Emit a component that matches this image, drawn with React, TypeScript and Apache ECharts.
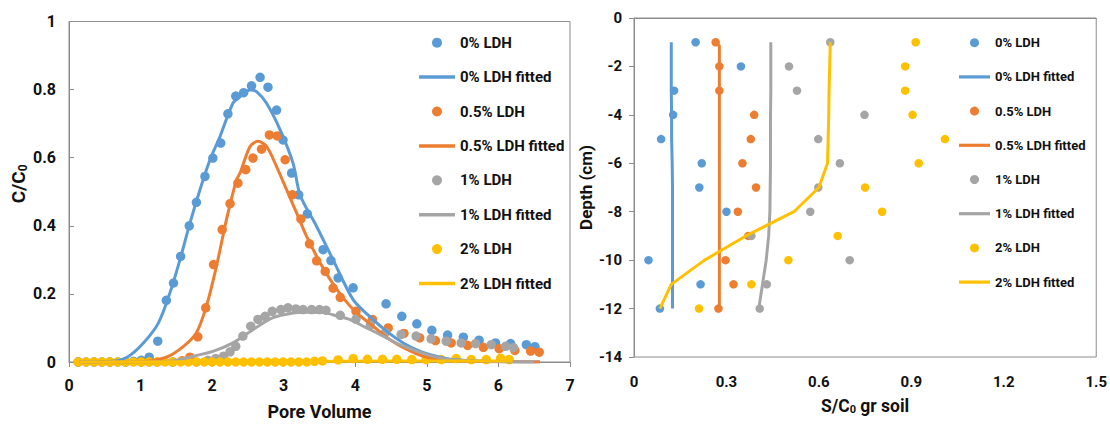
import React, { useEffect, useRef } from "react";
import * as echarts from "echarts";

// ---------- Left chart: breakthrough curves ----------
const pvTicks = [0, 1, 2, 3, 4, 5, 6, 7];

const ldh0X = [0.13, 0.24, 0.35, 0.46, 0.57, 0.68, 0.79, 0.9, 1.01, 1.12, 1.24, 1.36, 1.46, 1.56, 1.68, 1.78, 1.9, 2.01, 2.12, 2.22, 2.33, 2.44, 2.55, 2.67, 2.78, 2.9, 2.99, 3.11, 3.21, 3.33, 3.55, 3.66, 3.76, 3.97, 4.43, 4.65, 4.86, 5.07, 5.29, 5.51, 5.73, 5.96, 6.17, 6.39, 6.51];
const ldh0Y = [0, 0, 0, 0, 0, 0, 0, 0.002, 0.005, 0.014, 0.061, 0.181, 0.232, 0.31, 0.4, 0.469, 0.545, 0.599, 0.643, 0.729, 0.781, 0.791, 0.811, 0.836, 0.807, 0.74, 0.652, 0.555, 0.491, 0.435, 0.33, 0.298, 0.247, 0.218, 0.171, 0.134, 0.112, 0.093, 0.079, 0.073, 0.064, 0.056, 0.054, 0.051, 0.045];
const ldh0FitX = [0.15, 0.6, 0.81, 1.04, 1.25, 1.41, 1.55, 1.69, 1.83, 1.97, 2.11, 2.29, 2.39, 2.53, 2.62, 2.76, 2.95, 3.13, 3.23, 3.46, 3.69, 3.97, 4.2, 4.44, 4.67, 4.9, 5.13, 5.37, 5.8, 6.58];
const ldh0FitY = [0, 0.002, 0.014, 0.056, 0.115, 0.203, 0.3, 0.408, 0.506, 0.594, 0.662, 0.76, 0.779, 0.799, 0.794, 0.76, 0.682, 0.584, 0.49, 0.398, 0.3, 0.183, 0.134, 0.09, 0.056, 0.032, 0.017, 0.007, 0.002, 0];

const ldh05X = [0.13, 0.35, 0.57, 0.79, 1.01, 1.23, 1.45, 1.58, 1.69, 1.8, 1.91, 2.02, 2.14, 2.25, 2.36, 2.47, 2.57, 2.69, 2.8, 2.91, 3.02, 3.12, 3.24, 3.36, 3.46, 3.58, 3.69, 3.79, 4.01, 4.24, 4.46, 4.68, 4.9, 5.12, 5.34, 5.57, 5.79, 6.01, 6.23, 6.45, 6.57];
const ldh05Y = [0, 0, 0, 0, 0, 0, 0, 0.004, 0.014, 0.074, 0.159, 0.286, 0.389, 0.465, 0.525, 0.565, 0.599, 0.625, 0.667, 0.664, 0.594, 0.491, 0.42, 0.347, 0.297, 0.266, 0.217, 0.19, 0.149, 0.125, 0.1, 0.084, 0.071, 0.063, 0.056, 0.049, 0.043, 0.039, 0.034, 0.032, 0.029];
const ldh05FitX = [0.15, 1.0, 1.36, 1.6, 1.78, 1.92, 2.06, 2.2, 2.34, 2.39, 2.53, 2.64, 2.76, 2.9, 3.04, 3.18, 3.32, 3.51, 3.65, 3.85, 4.02, 4.25, 4.48, 4.72, 4.95, 5.18, 5.6, 6.58];
const ldh05FitY = [0, 0.001, 0.014, 0.046, 0.086, 0.164, 0.281, 0.418, 0.535, 0.555, 0.633, 0.648, 0.633, 0.574, 0.506, 0.438, 0.369, 0.291, 0.242, 0.183, 0.144, 0.105, 0.066, 0.037, 0.017, 0.007, 0.002, 0];

const ldh1X = [0.13, 0.46, 0.79, 1.12, 1.45, 1.78, 1.94, 2.05, 2.16, 2.25, 2.33, 2.43, 2.54, 2.64, 2.74, 2.84, 2.96, 3.06, 3.17, 3.27, 3.39, 3.5, 3.59, 3.79, 4.01, 4.21, 4.42, 4.64, 4.85, 5.06, 5.27, 5.48, 5.68, 5.9, 6.1, 6.21];
const ldh1Y = [0, 0, 0, 0, 0, 0, 0.005, 0.01, 0.017, 0.03, 0.046, 0.076, 0.105, 0.125, 0.134, 0.149, 0.154, 0.159, 0.156, 0.154, 0.154, 0.154, 0.152, 0.137, 0.126, 0.108, 0.086, 0.081, 0.076, 0.068, 0.061, 0.056, 0.054, 0.051, 0.046, 0.042];
const ldh1FitX = [0.15, 1.0, 1.41, 1.74, 2.02, 2.29, 2.57, 2.85, 3.13, 3.32, 3.55, 3.75, 3.92, 4.16, 4.39, 4.62, 4.86, 5.09, 5.32, 5.8, 6.5];
const ldh1FitY = [0, 0, 0.002, 0.017, 0.032, 0.056, 0.095, 0.13, 0.144, 0.146, 0.145, 0.135, 0.125, 0.1, 0.076, 0.051, 0.032, 0.017, 0.007, 0.002, 0];

const ldh2X = [0.13, 0.24, 0.35, 0.46, 0.57, 0.68, 0.79, 0.9, 1.01, 1.12, 1.23, 1.34, 1.45, 1.56, 1.67, 1.78, 1.89, 2.0, 2.11, 2.22, 2.33, 2.44, 2.55, 2.66, 2.77, 2.88, 2.99, 3.1, 3.21, 3.32, 3.43, 3.54, 3.76, 3.97, 4.17, 4.38, 4.58, 4.79, 4.99, 5.2, 5.41, 5.62, 5.83, 6.03, 6.15];
const ldh2Y = [0, 0, 0, 0, 0, 0, 0, 0, 0, 0, 0, 0, 0, 0, 0, 0, 0, 0, 0, 0, 0, 0, 0, 0, 0, 0, 0, 0, 0, 0, 0.002, 0.003, 0.006, 0.01, 0.008, 0.008, 0.008, 0.007, 0.007, 0.007, 0.01, 0.007, 0.007, 0.011, 0.007];
const ldh2FitX = [0.15, 3.0, 4.5, 6.2];
const ldh2FitY = [0, 0.001, 0.003, 0.003];

// ---------- Right chart: retained profiles ----------
const depthTicks = [0, -2, -4, -6, -8, -10, -12, -14];
const sTicks = [0, 0.3, 0.6, 0.9, 1.2, 1.5];

const depths = [-1, -2, -3, -4, -5, -6, -7, -8, -9, -10, -11, -12];
const prof0Depth = [-1, -2, -3, -4, -5, -6, -7, -8, -10, -11, -12];
const prof0 = [0.2, 0.347, 0.13, 0.127, 0.088, 0.22, 0.212, 0.3, 0.047, 0.216, 0.084];
const prof0Fit = [0.121, 0.121, 0.121, 0.122, 0.122, 0.124, 0.125, 0.125, 0.125, 0.125, 0.125, 0.125];
const prof05 = [0.265, 0.277, 0.277, 0.39, 0.379, 0.352, 0.396, 0.337, 0.371, 0.297, 0.323, 0.274];
const prof05FitDepth = [-1, -1.15, -2, -3, -4, -5, -6, -7, -8, -9, -10, -11, -12];
const prof05Fit = [0.265, 0.277, 0.277, 0.277, 0.277, 0.277, 0.277, 0.277, 0.277, 0.277, 0.277, 0.277, 0.277];
const prof1 = [0.637, 0.503, 0.529, 0.748, 0.598, 0.668, 0.598, 0.572, 0.381, 0.7, 0.431, 0.408];
const prof1Fit = [0.444, 0.444, 0.444, 0.443, 0.443, 0.443, 0.442, 0.441, 0.437, 0.429, 0.417, 0.405];
const prof2 = [0.914, 0.88, 0.88, 0.904, 1.009, 0.924, 0.75, 0.805, 0.661, 0.501, 0.381, 0.211];
const prof2Fit = [0.637, 0.635, 0.633, 0.632, 0.63, 0.628, 0.6, 0.519, 0.363, 0.229, 0.121, 0.084];

const seriesNames = ["0% LDH", "0% LDH fitted", "0.5% LDH", "0.5% LDH fitted", "1% LDH", "1% LDH fitted", "2% LDH", "2% LDH fitted"];
const colors = ["#5B9BD5", "#ED7D31", "#A5A5A5", "#FFC000"];

const FONT = "Roboto, 'Noto Sans', sans-serif";
const AXIS_COLOR = "#8c8c8c";
const TEXT_COLOR = "#111";

const pairs = (xs: number[], ys: number[]) => xs.map((x, i) => [x, ys[i]]);

export default function App() {
  const ref = useRef<HTMLDivElement>(null);

  useEffect(() => {
    if (!ref.current) return;
    const chart = echarts.init(ref.current, undefined, { renderer: "svg" });

    const lineIcon = "path://M0,0H36V3.5H0Z";
    const legendData = seriesNames.map((n, i) => ({ name: n, icon: i % 2 === 0 ? "circle" : lineIcon }));

    const leftPts = [pairs(ldh0X, ldh0Y), pairs(ldh05X, ldh05Y), pairs(ldh1X, ldh1Y), pairs(ldh2X, ldh2Y)];
    const leftFits = [pairs(ldh0FitX, ldh0FitY), pairs(ldh05FitX, ldh05FitY), pairs(ldh1FitX, ldh1FitY), pairs(ldh2FitX, ldh2FitY)];

    const rightPts = [
      pairs(prof0, prof0Depth),
      pairs(prof05, depths),
      pairs(prof1, depths),
      pairs(prof2, depths),
    ];
    const rightFits = [
      pairs(prof0Fit, depths),
      pairs(prof05Fit, prof05FitDepth),
      pairs(prof1Fit, depths),
      pairs(prof2Fit, depths),
    ];

    const series: any[] = [];
    for (let k = 0; k < 4; k++) {
      series.push({
        name: seriesNames[2 * k],
        type: "scatter",
        xAxisIndex: 0,
        yAxisIndex: 0,
        symbolSize: 9.5,
        color: colors[k],
        itemStyle: { color: colors[k], opacity: 1 },
        data: leftPts[k],
      });
      series.push({
        name: seriesNames[2 * k + 1],
        type: "line",
        xAxisIndex: 0,
        yAxisIndex: 0,
        showSymbol: false,
        symbol: "none",
        smooth: 0.3,
        color: colors[k],
        lineStyle: { color: colors[k], width: 3 },
        data: leftFits[k],
      });
    }
    for (let k = 0; k < 4; k++) {
      series.push({
        name: seriesNames[2 * k],
        type: "scatter",
        xAxisIndex: 1,
        yAxisIndex: 1,
        symbolSize: 8.5,
        color: colors[k],
        itemStyle: { color: colors[k], opacity: 1 },
        data: rightPts[k],
      });
      series.push({
        name: seriesNames[2 * k + 1],
        type: "line",
        xAxisIndex: 1,
        yAxisIndex: 1,
        showSymbol: false,
        symbol: "none",
        color: colors[k],
        lineStyle: { color: colors[k], width: 3 },
        data: rightFits[k],
      });
    }

    const labelStyle = (size: number) => ({
      fontFamily: FONT,
      fontSize: size,
      fontWeight: "bold" as const,
      color: TEXT_COLOR,
    });

    const nameStyle = (size: number, extra: any = {}) => ({
      fontFamily: FONT,
      fontSize: size,
      fontWeight: "bold" as const,
      color: TEXT_COLOR,
      ...extra,
      rich: {
        sub: {
          fontFamily: FONT,
          fontSize: Math.round(size * 0.62),
          fontWeight: "bold" as const,
          color: TEXT_COLOR,
          padding: [Math.round(size * 0.45), 0, 0, 0],
        },
      },
    });

    chart.setOption({
      animation: false,
      backgroundColor: "#fff",
      grid: [
        { left: 69, top: 21.5, width: 501, height: 341, show: true, borderColor: AXIS_COLOR, borderWidth: 1, containLabel: false },
        { left: 634, top: 18, width: 465, height: 339, show: true, borderColor: AXIS_COLOR, borderWidth: 1, containLabel: false },
      ],
      xAxis: [
        {
          type: "value",
          gridIndex: 0,
          min: pvTicks[0],
          max: pvTicks[pvTicks.length - 1],
          interval: 1,
          axisLine: { show: true, lineStyle: { color: AXIS_COLOR } },
          axisTick: { show: true, length: 5, lineStyle: { color: AXIS_COLOR } },
          splitLine: { show: false },
          axisLabel: { ...labelStyle(16), margin: 15 },
          name: "Pore Volume",
          nameLocation: "middle",
          nameGap: 40,
          nameTextStyle: labelStyle(18),
        },
        {
          type: "value",
          gridIndex: 1,
          min: sTicks[0],
          max: sTicks[sTicks.length - 1],
          interval: 0.3,
          axisLine: { show: true, lineStyle: { color: AXIS_COLOR } },
          axisTick: { show: false },
          splitLine: { show: false },
          axisLabel: { ...labelStyle(15), margin: 17 },
          name: "S/C{sub|0} gr soil",
          nameLocation: "middle",
          nameGap: 39,
          nameTextStyle: nameStyle(17.5),
        },
      ],
      yAxis: [
        {
          type: "value",
          gridIndex: 0,
          min: 0,
          max: 1,
          interval: 0.2,
          axisLine: { show: true, lineStyle: { color: AXIS_COLOR } },
          axisTick: { show: true, inside: true, length: 5, lineStyle: { color: AXIS_COLOR } },
          splitLine: { show: false },
          axisLabel: { ...labelStyle(16), margin: 13 },
          name: "C/C{sub|0}",
          nameLocation: "middle",
          nameRotate: 90,
          nameGap: 40,
          nameTextStyle: nameStyle(19, { padding: [0, 0, 0, 16] }),
        },
        {
          type: "value",
          gridIndex: 1,
          min: depthTicks[depthTicks.length - 1],
          max: depthTicks[0],
          interval: 2,
          axisLine: { show: true, lineStyle: { color: AXIS_COLOR } },
          axisTick: { show: true, length: 5, lineStyle: { color: AXIS_COLOR } },
          splitLine: { show: false },
          axisLabel: { ...labelStyle(15), margin: 12 },
          name: "Depth (cm)",
          nameLocation: "middle",
          nameRotate: 90,
          nameGap: 35,
          nameTextStyle: labelStyle(17),
        },
      ],
      legend: [
        {
          orient: "vertical",
          left: 419,
          top: 34.7,
          padding: 0,
          itemWidth: 36,
          itemHeight: 10,
          itemGap: 18.4,
          selectedMode: false,
          textStyle: { fontFamily: FONT, fontSize: 15, fontWeight: "bold", color: TEXT_COLOR, lineHeight: 16 },
          data: legendData,
        },
        {
          orient: "vertical",
          left: 959,
          top: 34.7,
          padding: 0,
          itemWidth: 31,
          itemHeight: 9,
          itemGap: 18.2,
          selectedMode: false,
          textStyle: { fontFamily: FONT, fontSize: 13, fontWeight: "bold", color: TEXT_COLOR, lineHeight: 16 },
          data: legendData.map((d) => ({ ...d, icon: d.icon === "circle" ? "circle" : "path://M0,0H31V3.2H0Z" })),
        },
      ],
      series,
    });

    return () => chart.dispose();
  }, []);

  return (
    <div
      ref={ref}
      style={{ position: "absolute", left: 0, top: 0, width: 1110, height: 425, background: "#fff" }}
    />
  );
}
